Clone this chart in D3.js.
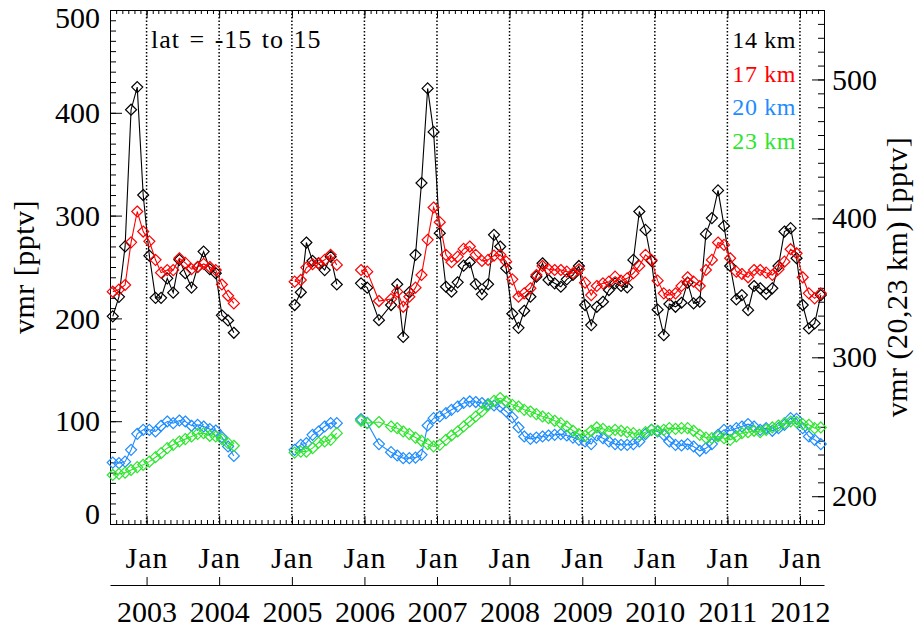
<!DOCTYPE html>
<html>
<head>
<meta charset="utf-8">
<script src="https://cdn.jsdelivr.net/npm/d3@7"></script>
<style>
  body { margin: 0; background: #fff; }
  svg { display: block; }
</style>
</head>
<body>
<svg id="chart" width="916" height="628"></svg>
<script>
// Monthly mean volume mixing ratio in the tropical band, four altitudes.
// Observations come in three periods; null marks a month without data.
const periodStarts = ["2002-07", "2005-01", "2005-12"];

// 14 km and 17 km: left axis (pptv)
const km14 = [
  [202, 221, 270, 403, 425, 320, 261, 220, 220, 239, 225, 257, 244, 230, 250, 265, 248, 244, 203, 198, 186],
  [213, 225.4, 273.8, 256, 253.6, 247, 260, 233],
  [234.1, 229.9, null, 198.3, null, 213, 233.2, 182, 225.4, 261.8, 331.7, 423.7, 381.4,
   282.9, 230.8, 226, 235.1, 251.3, 254.6, 233.2, 223.4, 233.2, 281.3, 269.9, 248.8,
   204.5, 190.8, 207.4, 221.1, 240.6, 253.6, 237.4, 234.1, 230.8, 238, 242.2, 251,
   213, 193.5, 211.3, 216.2, 227.6, 234.1, 231.5, 230.2, 256.9, 304, 286.1, 256,
   208.5, 183.7, 214, 211.3, 215.2, 234.8, 214.6, 216.2, 282.2, 297.6, 324.5, 290,
   251, 218.5, 222.7, 208, 231.5, 229.3, 223.7, 229.3, 251, 284.5, 287.8, 258.5,
   213, 190.2, 195.1, 222.7]
];
const km17 = [
  [226, 228, 232.5, 274, 304, 284.5, 275, 257, 244.5, 247, 247, 258.5, 254, 248, 250, 253, 250, 247, 233, 222, 214.6],
  [235.7, 237.4, 249.4, 252.7, 253.6, 257, 261.8, 252],
  [247.1, 245.5, null, 216.9, null, 218.8, 226, 211.3, 221.1, 229.9, 242.2, 276.4, 307.9,
   293.6, 261.8, 254.6, 260.1, 267.6, 269.9, 261.8, 255.9, 256.9, 261.1, 261.8, 255.2,
   238, 221.1, 224.4, 229.3, 242.2, 251, 247.8, 247.1, 247.1, 245.5, 243.9, 247.8,
   234.8, 222.7, 231.5, 234.1, 235.7, 240.6, 236.7, 239, 243.9, 251, 261.8, 256.9,
   236.7, 224.4, 222.7, 224.4, 231.5, 240, 235.7, 231.5, 247.1, 256.9, 273.8, 271.5,
   258.5, 245.5, 243.2, 240, 247.1, 247.1, 244.5, 242.2, 247.8, 255.2, 267.3, 263.4,
   240, 224.4, 219.5, 224.4]
];

// 20 km and 23 km: right axis (pptv)
const km20 = [
  [224.2, 223.8, 224.9, 233.4, 244.9, 247.8, 247.8, 246.6, 250.7, 253.8, 252.6, 254.5, 253.8, 250.7, 251.4, 250.2, 248.3, 247.3, 242.5, 235.8, 229.0],
  [233.4, 237.0, 238.2, 244.2, 246.6, 250.2, 252.6, 252.6],
  [255.5, 252.8, null, 237.5, null, 231.7, 229.3, 227.4, 227.4, 227.8, 229.8, 250.9, 256.2,
   257.4, 259.8, 262.2, 264.6, 267.1, 268.2, 267.8, 267.1, 266.3, 265.3, 264.6, 261.0,
   256.7, 249.5, 243.0, 241.3, 242.2, 243.0, 243.7, 244.2, 244.7, 243.7, 242.2, 240.6,
   239.4, 237.5, 243.7, 241.8, 239.4, 237.5, 237.0, 237.0, 237.5, 239.4, 244.7, 247.8,
   246.6, 244.2, 239.4, 237.0, 236.5, 237.5, 235.8, 232.7, 234.6, 237.5, 244.2, 247.8,
   247.1, 249.0, 250.2, 251.9, 250.2, 247.8, 249.0, 247.1, 249.0, 251.4, 256.2, 255.7,
   249.0, 243.0, 240.6, 237.5]
];
const km23 = [
  [215.3, 216.1, 217.0, 218.9, 220.9, 222.6, 224.9, 228.1, 231.0, 234.6, 237.0, 239.4, 241.1, 243.0, 244.9, 245.4, 243.5, 243.0, 241.1, 238.2, 236.3],
  [231.4, 232.1, 232.1, 234.6, 238.6, 239.4, 240.6, 245.4],
  [254.3, 252.6, null, 253.4, null, 250.2, 249.0, 246.6, 244.7, 242.2, 239.9, 237.5, 235.8,
   237.0, 240.6, 243.7, 246.6, 250.2, 253.8, 257.4, 261.0, 265.3, 268.7, 270.7, 268.2,
   265.8, 264.6, 262.2, 261.0, 259.1, 257.4, 256.2, 254.3, 252.6, 250.2, 247.1, 244.7,
   243.5, 247.1, 249.5, 248.5, 246.6, 247.8, 247.1, 246.1, 245.4, 244.2, 246.1, 247.8,
   247.1, 247.8, 249.0, 248.5, 249.0, 249.0, 247.1, 244.2, 242.2, 241.8, 243.0, 241.8,
   240.6, 243.0, 245.4, 246.1, 247.1, 246.1, 247.8, 249.5, 250.9, 252.6, 253.8, 253.4,
   251.9, 251.4, 249.0, 249.5]
];

const seriesNames = ["14 km", "17 km", "20 km", "23 km"];
const seriesColors = ["#000000", "#ff0000", "#1e8cff", "#2ee52e"];
const leftTicks = [0, 100, 200, 300, 400, 500];
const rightTicks = [200, 300, 400, 500];
const yearLabels = [2003, 2004, 2005, 2006, 2007, 2008, 2009, 2010, 2011, 2012];
const regionLabel = "lat = -15 to 15";
const leftTitle = "vmr [pptv]";
const rightTitle = "vmr (20,23 km) [pptv]";

const FONT = "'Liberation Serif', 'Times New Roman', serif";
const svg = d3.select("#chart");

const box = { left: 110, right: 824, top: 10, bottom: 524 };

const x = d3.scaleUtc()
  .domain([new Date(Date.UTC(2002, 6, 1)), new Date(Date.UTC(2012, 4, 1))])
  .range([box.left, box.right]);
const yL = d3.scaleLinear().domain([0, 500]).range([box.bottom, box.top]);
const yR = d3.scaleLinear().domain([180, 550]).range([box.bottom, box.top]);

// Turn a period's monthly list into dated points (mid-month), skipping empty months
function points(period, values) {
  const [yy, mm] = periodStarts[period].split("-").map(Number);
  return values
    .map((v, i) => ({ date: new Date(Date.UTC(yy, mm - 1 + i, 15)), v }))
    .filter(d => d.v != null);
}

const janDates = yearLabels.map(y => new Date(Date.UTC(y, 0, 1)));

// Dotted lines at every January
svg.append("g").selectAll("line").data(janDates).join("line")
  .attr("x1", d => x(d)).attr("x2", d => x(d))
  .attr("y1", box.top).attr("y2", box.bottom)
  .attr("stroke", "#000").attr("stroke-width", 1.5)
  .attr("stroke-dasharray", "1.5,2");

function styleAxis(g, size) {
  g.selectAll("text").attr("font-family", FONT).attr("font-size", size).attr("fill", "#000");
  g.selectAll("line,path").attr("stroke", "#000").attr("stroke-width", 1);
  g.attr("font-family", null).attr("font-size", null);
}

// Bottom and top axes: monthly minor ticks, January major ticks
const monthTicks = d3.utcMonth.range(x.domain()[0], d3.utcDay.offset(x.domain()[1], 1));
svg.append("g").attr("transform", `translate(0,${box.bottom})`)
  .call(d3.axisBottom(x).tickValues(monthTicks).tickSizeInner(-4).tickSizeOuter(0).tickFormat(""))
  .call(g => styleAxis(g, 30));
svg.append("g").attr("transform", `translate(0,${box.bottom})`)
  .call(d3.axisBottom(x).tickValues(janDates).tickSizeInner(-8).tickSizeOuter(0)
    .tickPadding(23).tickFormat(() => "Jan"))
  .call(g => g.select(".domain").remove())
  .call(g => styleAxis(g, 30))
  .call(g => g.selectAll("text").attr("letter-spacing", 1));
svg.append("g").attr("transform", `translate(0,${box.top})`)
  .call(d3.axisTop(x).tickValues(monthTicks).tickSizeInner(-4).tickSizeOuter(0).tickFormat(""))
  .call(g => styleAxis(g, 30));
svg.append("g").attr("transform", `translate(0,${box.top})`)
  .call(d3.axisTop(x).tickValues(janDates).tickSizeInner(-8).tickSizeOuter(0).tickFormat(""))
  .call(g => g.select(".domain").remove())
  .call(g => styleAxis(g, 30));

// Year axis below the plot
svg.append("g").attr("transform", "translate(0,585)")
  .call(d3.axisBottom(x).tickValues(janDates).tickSizeInner(-8).tickSizeOuter(0)
    .tickPadding(16).tickFormat(d3.utcFormat("%Y")))
  .call(g => styleAxis(g, 30));

// Left axis (14, 17 km); the end labels sit just inside the frame
svg.append("g").attr("transform", `translate(${box.left},0)`)
  .call(d3.axisLeft(yL).tickValues(d3.range(0, 501, 10)).tickSizeInner(-6).tickSizeOuter(0).tickFormat(""))
  .call(g => styleAxis(g, 30));
svg.append("g").attr("transform", `translate(${box.left},0)`)
  .call(d3.axisLeft(yL).tickValues(leftTicks).tickSizeInner(-12).tickSizeOuter(0).tickPadding(10))
  .call(g => g.select(".domain").remove())
  .call(g => styleAxis(g, 30))
  .call(g => g.selectAll(".tick text")
    .attr("y", d => d === 500 ? 8 : d === 0 ? -10 : 0));

// Right axis (20, 23 km)
svg.append("g").attr("transform", `translate(${box.right},0)`)
  .call(d3.axisRight(yR).tickValues(d3.range(180, 551, 10)).tickSizeInner(-6).tickSizeOuter(0).tickFormat(""))
  .call(g => styleAxis(g, 30));
svg.append("g").attr("transform", `translate(${box.right},0)`)
  .call(d3.axisRight(yR).tickValues(rightTicks).tickSizeInner(-12).tickSizeOuter(0).tickPadding(8))
  .call(g => g.select(".domain").remove())
  .call(g => styleAxis(g, 30));

// Axis titles
svg.append("text")
  .attr("transform", `translate(34,${(box.top + box.bottom) / 2}) rotate(-90)`)
  .attr("text-anchor", "middle")
  .attr("font-family", FONT).attr("font-size", 30).attr("letter-spacing", 0.5)
  .text(leftTitle);
svg.append("text")
  .attr("transform", `translate(907,${(box.top + box.bottom) / 2 + 10}) rotate(-90)`)
  .attr("text-anchor", "middle")
  .attr("font-family", FONT).attr("font-size", 30).attr("letter-spacing", 0.5)
  .text(rightTitle);

// Data series
const allSeries = [
  { values: km14, y: yL },
  { values: km17, y: yL },
  { values: km20, y: yR },
  { values: km23, y: yR }
];
const diamond = (cx, cy, r) => `M${cx},${cy - r}L${cx + r},${cy}L${cx},${cy + r}L${cx - r},${cy}Z`;

allSeries.forEach((s, si) => {
  const color = seriesColors[si];
  const g = svg.append("g");
  s.values.forEach((vals, p) => {
    const pts = points(p, vals);
    const line = d3.line().x(d => x(d.date)).y(d => s.y(d.v));
    g.append("path").datum(pts)
      .attr("d", line)
      .attr("fill", "none").attr("stroke", color).attr("stroke-width", 1.1);
    g.selectAll(null).data(pts).join("path")
      .attr("d", d => diamond(x(d.date), s.y(d.v), 5.5))
      .attr("fill", "none").attr("stroke", color).attr("stroke-width", 1.2);
  });
});

// Legend and region note
svg.append("g").selectAll("text").data(seriesNames).join("text")
  .attr("x", 796).attr("y", (d, i) => 48 + i * 33.5)
  .attr("text-anchor", "end")
  .attr("font-family", FONT).attr("font-size", 24).attr("letter-spacing", 0.6)
  .attr("fill", (d, i) => seriesColors[i])
  .text(d => d);
svg.append("text")
  .attr("x", 151).attr("y", 48)
  .attr("font-family", FONT).attr("font-size", 26)
  .attr("letter-spacing", 1).attr("word-spacing", 2)
  .text(regionLabel);
</script>
</body>
</html>
